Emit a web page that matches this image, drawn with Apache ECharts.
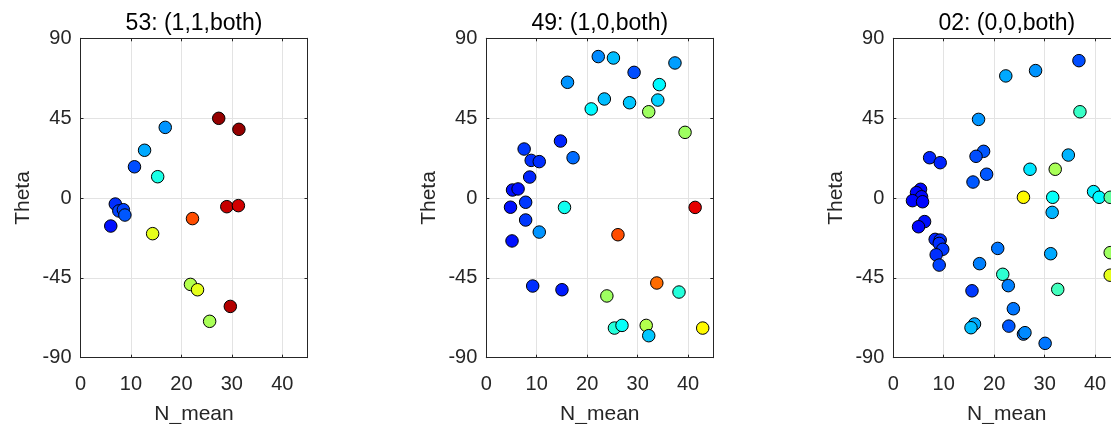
<!DOCTYPE html>
<html>
<head>
<meta charset="utf-8">
<script src="https://cdn.jsdelivr.net/npm/echarts@6/dist/echarts.min.js"></script>
<style>
html,body{margin:0;padding:0;background:#fff;}
#chart{width:1111px;height:424px;}
</style>
</head>
<body>
<div id="chart"></div>
<script>
// ---- data ----
const titles = ['53: (1,1,both)', '49: (1,0,both)', '02: (0,0,both)'];
const xTicks = [0, 10, 20, 30, 40];
const yTicks = [-90, -45, 0, 45, 90];

const n1 = [27.4, 31.4, 16.8, 12.7, 10.7, 15.3, 6.9, 7.6, 8.5, 8.8, 6.0, 14.3, 22.2, 29.0, 31.3, 21.8, 23.2, 29.7, 25.6];
const t1 = [44.9, 38.7, 39.8, 26.9, 17.6, 12.0, -3.4, -7.3, -6.6, -9.6, -15.8, -20.1, -11.6, -4.9, -4.3, -48.7, -51.7, -61.1, -69.5];
const c1 = [0.98, 0.98, 0.27, 0.29, 0.2, 0.4, 0.17, 0.19, 0.19, 0.21, 0.14, 0.6, 0.8, 0.93, 0.92, 0.55, 0.6, 0.95, 0.54];

const n2 = [22.2, 25.2, 29.3, 37.4, 16.1, 34.3, 23.4, 34.0, 28.4, 20.8, 32.2, 39.4, 14.7, 7.5, 17.2, 8.9, 10.5, 8.6, 5.2, 6.3, 7.8, 4.8, 15.5, 41.4, 7.8, 10.5, 5.1, 26.1, 9.2, 15.0, 33.8, 23.9, 38.2, 25.4, 26.9, 31.7, 32.2, 42.9];
const t2 = [79.7, 78.9, 70.8, 76.1, 65.2, 63.9, 55.8, 55.2, 53.7, 50.2, 48.6, 37.0, 32.1, 27.6, 22.7, 21.2, 20.5, 11.8, 4.5, 5.1, -2.4, -5.2, -5.3, -5.3, -12.4, -19.2, -24.2, -20.7, -49.6, -51.7, -47.9, -55.2, -53.0, -73.3, -71.8, -71.8, -77.6, -73.3];
const c2 = [0.26, 0.31, 0.2, 0.28, 0.27, 0.37, 0.31, 0.33, 0.32, 0.37, 0.53, 0.53, 0.16, 0.18, 0.23, 0.17, 0.17, 0.16, 0.14, 0.14, 0.18, 0.14, 0.39, 0.9, 0.18, 0.27, 0.14, 0.8, 0.17, 0.15, 0.77, 0.53, 0.41, 0.41, 0.38, 0.55, 0.32, 0.63];

const n3 = [36.8, 28.2, 22.3, 37.0, 16.9, 17.9, 16.4, 34.7, 7.2, 9.3, 18.5, 27.1, 32.1, 15.8, 5.4, 4.6, 5.6, 3.8, 5.8, 25.8, 31.6, 39.7, 40.8, 43.0, 31.5, 6.2, 5.0, 8.3, 9.3, 9.1, 9.8, 8.5, 9.1, 20.7, 17.1, 31.2, 21.7, 22.8, 32.6, 15.6, 23.8, 16.1, 15.4, 22.9, 25.8, 26.1, 30.1, 43.0, 43.0];
const t3 = [77.4, 71.8, 68.8, 48.6, 44.3, 26.3, 23.5, 24.2, 22.7, 19.9, 13.4, 16.2, 16.2, 9.0, 4.9, 3.0, 0.7, -1.5, -2.1, 0.4, 0.4, 3.6, 0.4, 0.4, -8.1, -13.3, -16.2, -23.3, -23.7, -25.6, -28.9, -32.0, -37.8, -28.4, -37.0, -31.4, -43.0, -49.4, -51.5, -52.3, -62.4, -71.0, -73.1, -72.2, -76.7, -75.9, -81.9, -30.8, -43.5];
const c3 = [0.2, 0.27, 0.29, 0.43, 0.27, 0.21, 0.2, 0.3, 0.16, 0.16, 0.21, 0.35, 0.54, 0.21, 0.13, 0.13, 0.13, 0.13, 0.13, 0.63, 0.38, 0.36, 0.37, 0.47, 0.3, 0.14, 0.13, 0.16, 0.17, 0.17, 0.18, 0.17, 0.19, 0.24, 0.25, 0.29, 0.42, 0.25, 0.44, 0.18, 0.24, 0.29, 0.31, 0.21, 0.24, 0.26, 0.24, 0.53, 0.6];

const seriesN = [n1, n2, n3];
const seriesT = [t1, t2, t3];
const seriesC = [c1, c2, c3];

// ---- layout / style ----
const FONT = '"Liberation Sans", Arial, Helvetica, sans-serif';
const INK = '#262626';
const GRIDC = '#e3e3e3';
const lefts = [80.5, 486.3, 893.3];
const TOP = 38.3, W = 227, H = 319.4;
const jet = ['#00008f', '#0000ff', '#0080ff', '#00ffff', '#80ff80', '#ffff00', '#ff8000', '#ff0000', '#800000'];

const grids = [], xAxes = [], yAxes = [], series = [];
for (let i = 0; i < 3; i++) {
  grids.push({left: lefts[i], top: TOP, width: W, height: H, outerBoundsMode: 'none', containLabel: false});
  const xBase = {gridIndex: i, type: 'value', min: xTicks[0], max: 45, interval: xTicks[1] - xTicks[0],
    axisLine: {show: true, onZero: false, lineStyle: {color: INK, width: 1}},
    axisTick: {show: true, inside: true, length: 3, lineStyle: {color: INK}}};
  xAxes.push(Object.assign({}, xBase, {position: 'bottom',
    name: 'N_mean', nameLocation: 'middle', nameGap: 46,
    nameTextStyle: {color: INK, fontSize: 21, fontFamily: FONT},
    axisLabel: {show: true, margin: 17, color: INK, fontSize: 20, fontFamily: FONT, showMaxLabel: false},
    splitLine: {show: true, lineStyle: {color: GRIDC, width: 1}}}));
  xAxes.push(Object.assign({}, xBase, {position: 'top',
    name: titles[i], nameLocation: 'middle', nameGap: 3,
    nameTextStyle: {color: '#000', fontSize: 23, fontFamily: FONT},
    axisLabel: {show: false}, splitLine: {show: false}}));
  const yBase = {gridIndex: i, type: 'value', min: yTicks[0], max: yTicks[yTicks.length - 1], interval: yTicks[1] - yTicks[0],
    axisLine: {show: true, onZero: false, lineStyle: {color: INK, width: 1}},
    axisTick: {show: true, inside: true, length: 3, lineStyle: {color: INK}}};
  yAxes.push(Object.assign({}, yBase, {position: 'left',
    name: 'Theta', nameLocation: 'middle', nameGap: 47,
    nameTextStyle: {color: INK, fontSize: 21, fontFamily: FONT},
    axisLabel: {show: true, margin: 9, color: INK, fontSize: 20, fontFamily: FONT},
    splitLine: {show: true, lineStyle: {color: GRIDC, width: 1}}}));
  yAxes.push(Object.assign({}, yBase, {position: 'right',
    axisLabel: {show: false}, splitLine: {show: false}}));
  const data = seriesN[i].map((v, k) => [v, seriesT[i][k], seriesC[i][k]]);
  series.push({type: 'scatter', xAxisIndex: 2 * i, yAxisIndex: 2 * i, data: data,
    symbol: 'circle', symbolSize: 12.5,
    itemStyle: {borderColor: '#000', borderWidth: 1, opacity: 1},
    emphasis: {disabled: true}, animation: false});
}

const chart = echarts.init(document.getElementById('chart'), null, {renderer: 'canvas'});
chart.setOption({
  animation: false,
  backgroundColor: '#fff',
  grid: grids,
  xAxis: xAxes,
  yAxis: yAxes,
  visualMap: {type: 'continuous', show: false, dimension: 2, min: 0, max: 1,
    seriesIndex: [0, 1, 2], inRange: {color: jet}},
  series: series
});
</script>
</body>
</html>
